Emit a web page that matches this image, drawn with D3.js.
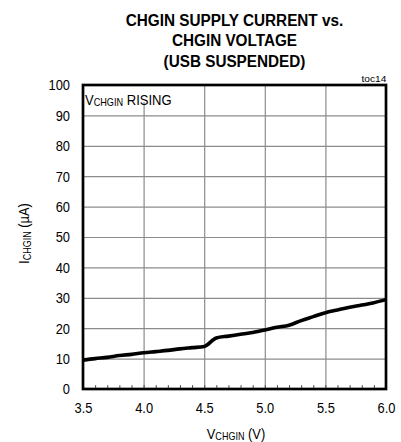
<!DOCTYPE html>
<html>
<head>
<meta charset="utf-8">
<script src="https://cdn.jsdelivr.net/npm/d3@7"></script>
<style>
  body { margin: 0; background: #fff; }
  svg { display: block; }
  text { font-family: "Liberation Sans", Arial, sans-serif; fill: #000; }
</style>
</head>
<body>
<div id="chart"></div>
<script>
// supply current (uA), every 0.1 V
var voltage = [3.5, 3.6, 3.7, 3.8, 3.9, 4.0, 4.1, 4.2, 4.3, 4.4, 4.5, 4.6, 4.7,
               4.8, 4.9, 5.0, 5.1, 5.2, 5.3, 5.4, 5.5, 5.6, 5.7, 5.8, 5.9, 6.0];
var current = [9.5, 10.0, 10.4, 11.0, 11.4, 11.9, 12.3, 12.7, 13.2, 13.6, 14.0, 16.8, 17.4,
               18.0, 18.6, 19.4, 20.3, 21.0, 22.5, 23.8, 25.1, 26.0, 26.9, 27.6, 28.4, 29.4];
var xTicks = [3.5, 4.0, 4.5, 5.0, 5.5, 6.0];
var yTicks = [0, 10, 20, 30, 40, 50, 60, 70, 80, 90, 100];
var titleLines = ["CHGIN SUPPLY CURRENT vs.", "CHGIN VOLTAGE", "(USB SUSPENDED)"];

var W = 401, H = 442;
var margin = { top: 85, right: 15, bottom: 53, left: 83 },
    width = W - margin.left - margin.right,
    height = H - margin.top - margin.bottom;

// narrow the glyphs a bit, like the Arial Narrow in the original
function squeeze(sel, k) {
    sel.each(function () {
        var t = d3.select(this), x = +t.attr("x") || 0;
        t.attr("x", x / k).attr("transform", "scale(" + k + ",1)");
    });
}

var svg = d3.select("#chart").append("svg")
    .attr("width", W)
    .attr("height", H);

// title
svg.append("g").selectAll("text")
    .data(titleLines)
    .enter().append("text")
    .attr("x", 234.5)
    .attr("y", function (d, i) { return 26 + i * 20.5; })
    .attr("text-anchor", "middle")
    .style("font-size", "17px")
    .style("font-weight", "bold")
    .text(function (d) { return d; })
    .call(squeeze, 0.9);

svg.append("text")
    .attr("x", 386.5)
    .attr("y", 82)
    .attr("text-anchor", "end")
    .attr("textLength", 25)
    .attr("lengthAdjust", "spacingAndGlyphs")
    .style("font-size", "9px")
    .text("toc14");

var g = svg.append("g")
    .attr("transform", "translate(" + margin.left + "," + margin.top + ")");

var x = d3.scaleLinear().domain([3.5, 6.0]).range([0, width]);
var y = d3.scaleLinear().domain([0, 100]).range([height, 0]);

// grid
g.append("g")
    .attr("transform", "translate(0," + height + ")")
    .call(d3.axisBottom(x).tickValues(xTicks.slice(1, -1)).tickSize(-height).tickFormat(""))
    .call(function (a) { a.select(".domain").remove(); })
    .selectAll("line").attr("stroke", "#8c8c8c").attr("stroke-width", 1.2);
g.append("g")
    .call(d3.axisLeft(y).tickValues(yTicks.slice(1, -1)).tickSize(-width).tickFormat(""))
    .call(function (a) { a.select(".domain").remove(); })
    .selectAll("line").attr("stroke", "#8c8c8c").attr("stroke-width", 1.2);

// minor ticks on the bottom edge
g.append("g")
    .attr("transform", "translate(0," + height + ")")
    .call(d3.axisBottom(x).tickValues(d3.range(36, 60).map(function (d) { return d / 10; }))
        .tickSize(-4).tickFormat(""))
    .call(function (a) { a.select(".domain").remove(); })
    .selectAll("line").attr("stroke", "#555").attr("stroke-width", 1);

// label in the corner
var lab = g.append("g");
var labBox = lab.append("rect").attr("fill", "#fff");
var labText = lab.append("text")
    .attr("x", 2)
    .attr("y", 20)
    .style("font-size", "15px");
labText.append("tspan").text("V");
labText.append("tspan").style("font-size", "10.5px").attr("dy", 1.5).text("CHGIN");
labText.append("tspan").attr("dy", -1.5).text(" RISING");
labText.call(squeeze, 0.87);
var bb = labText.node().getBBox();
labBox.attr("x", 1).attr("y", 1).attr("width", (bb.x + bb.width) * 0.87 + 4).attr("height", 16);

// data curve
var pts = voltage.map(function (v, i) { return [v, current[i]]; });
var line = d3.line()
    .x(function (d) { return x(d[0]); })
    .y(function (d) { return y(d[1]); })
    .curve(d3.curveMonotoneX);
g.append("path")
    .datum(pts)
    .attr("d", line)
    .attr("fill", "none")
    .attr("stroke", "#000")
    .attr("stroke-width", 3.6)
    .attr("stroke-linejoin", "round");

// frame
g.append("rect")
    .attr("width", width)
    .attr("height", height)
    .attr("fill", "none")
    .attr("stroke", "#000")
    .attr("stroke-width", 2.7);

// axes labels
g.append("g")
    .call(d3.axisLeft(y).tickValues(yTicks).tickSize(0).tickPadding(13))
    .call(function (a) { a.select(".domain").remove(); })
    .selectAll("text")
    .style("font-size", "15px")
    .style("font-family", "'Liberation Sans', Arial, sans-serif")
    .call(squeeze, 0.86);

g.append("g")
    .attr("transform", "translate(0," + height + ")")
    .call(d3.axisBottom(x).tickValues(xTicks).tickFormat(d3.format(".1f")).tickSize(0).tickPadding(13))
    .call(function (a) { a.select(".domain").remove(); })
    .selectAll("text")
    .style("font-size", "15px")
    .style("font-family", "'Liberation Sans', Arial, sans-serif")
    .call(squeeze, 0.86);

// axis titles
var xt = svg.append("text")
    .attr("x", 236)
    .attr("y", 439)
    .attr("text-anchor", "middle")
    .style("font-size", "15px");
xt.append("tspan").text("V");
xt.append("tspan").style("font-size", "10.5px").attr("dy", 1.5).text("CHGIN");
xt.append("tspan").attr("dy", -1.5).text(" (V)");
xt.call(squeeze, 0.86);

var yt = svg.append("g")
    .attr("transform", "translate(29,233.5) rotate(-90)")
    .append("text")
    .attr("text-anchor", "middle")
    .style("font-size", "15px");
yt.append("tspan").text("I");
yt.append("tspan").style("font-size", "10.5px").attr("dy", 1.5).text("CHGIN");
yt.append("tspan").attr("dy", -1.5).text(" (\u00b5A)");
yt.call(squeeze, 0.86);
</script>
</body>
</html>
